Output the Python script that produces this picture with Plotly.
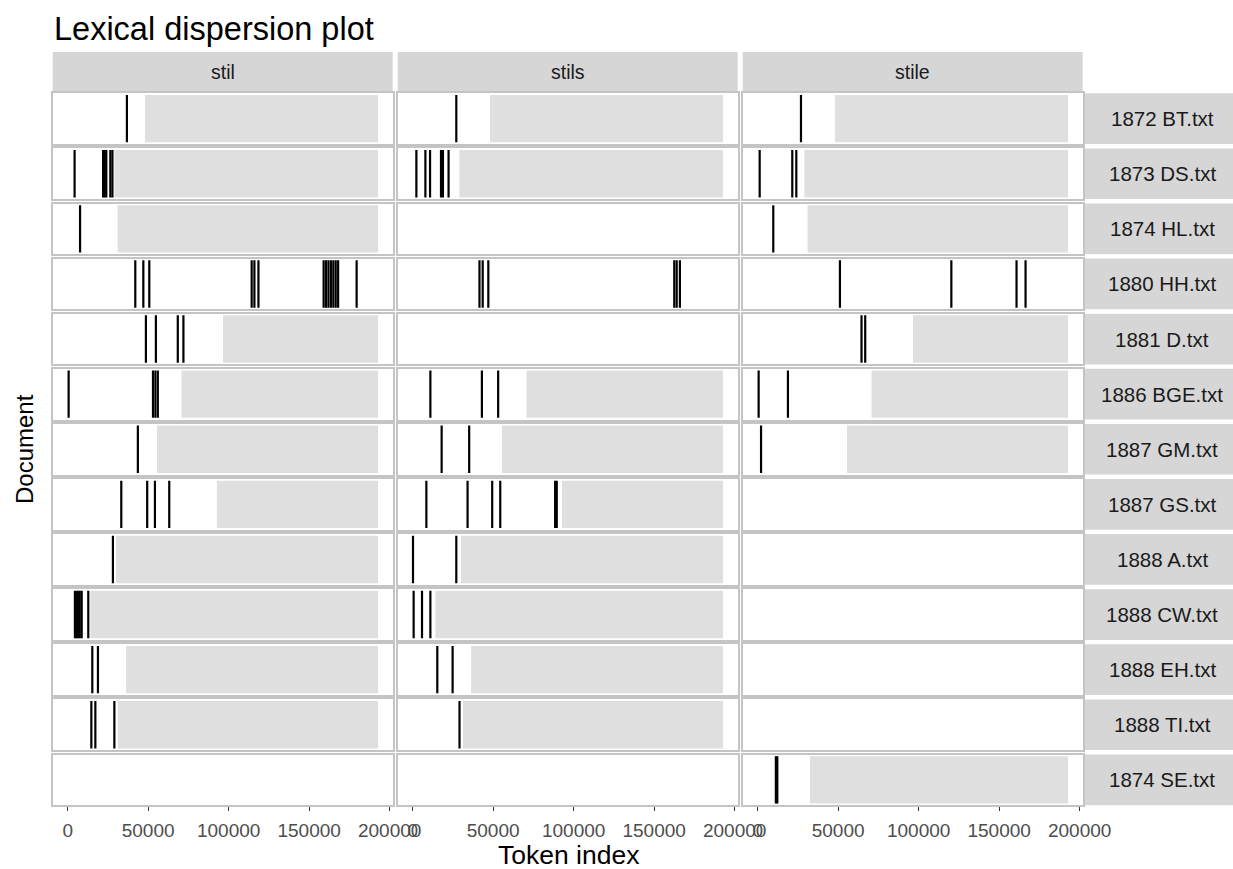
import plotly.graph_objects as go

docs = ["1872 BT.txt", "1873 DS.txt", "1874 HL.txt", "1880 HH.txt", "1881 D.txt",
        "1886 BGE.txt", "1887 GM.txt", "1887 GS.txt", "1888 A.txt", "1888 CW.txt",
        "1888 EH.txt", "1888 TI.txt", "1874 SE.txt"]
terms = ["stil", "stils", "stile"]
doc_lengths = [48000, 29000, 31000, 192800, 96500, 70700, 55500, 92700, 30000,
               14100, 36300, 31200, 32500]

stil_positions = [
    [36800],
    [4300, 22000, 23000, 24000, 26500, 27800],
    [7700],
    [42000, 47000, 50700, 114300, 116000, 118500, 159000, 160500, 162000, 163500,
     165000, 166500, 168000, 179500],
    [48600, 54800, 68400, 71900],
    [600, 53000, 54500, 56000],
    [43600],
    [33300, 49400, 54200, 63100],
    [28100],
    [4500, 5500, 6500, 7500, 8700, 12800],
    [15300, 18800],
    [14700, 17200, 29000],
    [],
]
stils_positions = [
    [27100],
    [2300, 7900, 10800, 17600, 18800, 22300],
    [],
    [41500, 43500, 47000, 162500, 164000, 166000],
    [],
    [11000, 43000, 53100],
    [18000, 35100],
    [8500, 34100, 49400, 54400, 88500, 89500],
    [200, 27100],
    [600, 5800, 11000],
    [15300, 24800],
    [29100],
    [],
]
stile_positions = [
    [26900],
    [1250, 21500, 24000],
    [9700],
    [51100, 120300, 160800, 166400],
    [64500, 66800],
    [600, 18800],
    [2100],
    [],
    [],
    [],
    [],
    [],
    [11300, 12200],
]
x_tick_values = [0, 50000, 100000, 150000, 200000]
x_tick_labels = ["0", "50000", "100000", "150000", "200000"]

W, H = 1233, 869
FONT = "Liberation Sans"
col_left = [52.7, 397.7, 742.7]
col_width = 340.0
row_top0 = 93.3
row_pitch = 55.1
row_height = 50.7
strip_fill = "#d6d6d6"
rect_fill = "#dfdfdf"
border = "#c4c4c4"


def py(px):
    return 1 - px / H


fig = go.Figure()
max_len = max(doc_lengths)
positions_by_term = [stil_positions, stils_positions, stile_positions]
axes = {}
n_rows = len(docs)

for r, doc in enumerate(docs):
    for c, term in enumerate(terms):
        idx = r * 3 + c + 1
        xr = "x" if idx == 1 else f"x{idx}"
        yr = "y" if idx == 1 else f"y{idx}"
        xk = "xaxis" if idx == 1 else f"xaxis{idx}"
        yk = "yaxis" if idx == 1 else f"yaxis{idx}"
        pos = positions_by_term[c][r]
        if pos and doc_lengths[r] < max_len:
            fig.add_trace(go.Bar(
                orientation="h", y=[0.5], x=[max_len - doc_lengths[r]],
                base=[doc_lengths[r]], width=[1],
                marker=dict(color=rect_fill, line=dict(width=0)),
                xaxis=xr, yaxis=yr, showlegend=False, hoverinfo="skip"))
        xs, ys = [], []
        for p in pos:
            xs += [p, p, None]
            ys += [0, 1, None]
        if not xs:
            xs, ys = [None], [None]
        fig.add_trace(go.Scatter(
            x=xs, y=ys, mode="lines", line=dict(color="black", width=2.2),
            xaxis=xr, yaxis=yr, showlegend=False, hoverinfo="skip"))
        top = row_top0 + r * row_pitch
        bottom = top + row_height
        last = r == n_rows - 1
        axes[xk] = dict(
            domain=[col_left[c] / W, (col_left[c] + col_width) / W],
            range=[-9300, 201900], anchor=yr, showgrid=False, zeroline=False,
            showline=True, mirror=True, linecolor=border, linewidth=1.5,
            ticks="outside" if last else "", ticklen=4, tickwidth=1.2,
            tickcolor="#333333", tickvals=x_tick_values, ticktext=x_tick_labels,
            showticklabels=last, ticklabelstandoff=3, automargin=False,
            tickfont=dict(family=FONT, size=19, color="#4d4d4d"),
            fixedrange=True)
        axes[yk] = dict(
            domain=[py(bottom), py(top)], range=[-0.035, 1.035], anchor=xr,
            showgrid=False, zeroline=False, showticklabels=False, showline=True,
            mirror=True, linecolor=border, linewidth=1.5, ticks="",
            automargin=False, fixedrange=True)

shapes = []
annotations = []
# top strips
for c, term in enumerate(terms):
    shapes.append(dict(type="rect", xref="paper", yref="paper",
                       x0=col_left[c] / W, x1=(col_left[c] + col_width) / W,
                       y0=py(91), y1=py(52), fillcolor=strip_fill, line=dict(width=0),
                       layer="below"))
    annotations.append(dict(text=term, xref="paper", yref="paper",
                            x=(col_left[c] + col_width / 2) / W, y=py(71.5),
                            showarrow=False, xanchor="center", yanchor="middle",
                            font=dict(family=FONT, size=19.5, color="#1a1a1a")))
# right strips
for r, doc in enumerate(docs):
    top = row_top0 + r * row_pitch
    bottom = top + row_height
    shapes.append(dict(type="rect", xref="paper", yref="paper",
                       x0=1085 / W, x1=1.0, y0=py(bottom), y1=py(top),
                       fillcolor=strip_fill, line=dict(width=0), layer="below"))
    annotations.append(dict(text=doc, xref="paper", yref="paper",
                            x=1162 / W, y=py((top + bottom) / 2),
                            showarrow=False, xanchor="center", yanchor="middle",
                            font=dict(family=FONT, size=20.5, color="#1a1a1a")))

annotations.append(dict(text="Lexical dispersion plot", xref="paper", yref="paper",
                        x=52 / W, y=py(29), showarrow=False, xanchor="left",
                        yanchor="middle", font=dict(family=FONT, size=32.5, color="black")))
annotations.append(dict(text="Token index", xref="paper", yref="paper",
                        x=568 / W, y=py(855), showarrow=False, xanchor="center",
                        yanchor="middle", font=dict(family=FONT, size=26.5, color="black")))
annotations.append(dict(text="Document", xref="paper", yref="paper",
                        x=24 / W, y=py(449), showarrow=False, xanchor="center",
                        yanchor="middle", textangle=-90,
                        font=dict(family=FONT, size=24, color="black")))

fig.update_layout(
    width=W, height=H, autosize=False,
    margin=dict(l=0, r=0, t=0, b=0, pad=0, autoexpand=False),
    paper_bgcolor="white", plot_bgcolor="white", barmode="overlay",
    shapes=shapes, annotations=annotations, showlegend=False,
    font=dict(family=FONT), **axes)

fig.write_html("out.html", config={"responsive": False, "displayModeBar": False},
               post_script="document.body.style.margin='0';document.body.style.overflow='hidden';")
